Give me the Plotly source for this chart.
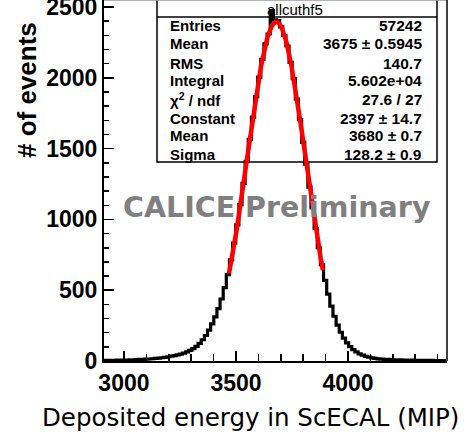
import numpy as np
import plotly.graph_objects as go

# ---- data ----
bin_start = 2911.0
bin_width = 14.0
counts = [
    4, 3, 5, 4, 6, 5, 7, 6, 8, 9,
    10, 11, 12, 13, 14, 16, 18, 20, 23, 26,
    30, 34, 38, 43, 49, 56, 64, 75, 88, 104,
    125, 150, 180, 218, 262, 312, 370, 438, 518, 610,
    715, 832, 962, 1105, 1255, 1410, 1565, 1722, 1868, 2005,
    2130, 2240, 2310, 2475, 2410, 2405, 2360, 2300, 2225, 2110,
    1995, 1850, 1705, 1545, 1390, 1228, 1082, 935, 800, 680,
    570, 472, 388, 316, 254, 203, 162, 128, 101, 81,
    64, 51, 41, 33, 27, 22, 18, 15, 13, 12,
    11, 10, 9, 8, 8, 7, 7, 6, 6, 5,
    5, 5, 4, 4, 4, 3, 3, 3, 3,
]
fit_constant = 2397.0
fit_mean = 3680.0
fit_sigma = 128.2
fit_range = [3469.0, 3888.0]

stats_title = "allcuthf5"
stats_labels = ["Entries", "Mean", "RMS", "Integral", "χ<sup>2</sup> / ndf",
                "Constant", "Mean", "Sigma"]
stats_values = ["57242", "3675 ± 0.5945", "140.7", "5.602e+04", "27.6 / 27",
                "2397 ± 14.7", "3680 ± 0.7", "128.2 ± 0.9"]

x_ticks = [3000, 3500, 4000]
y_ticks = [0, 500, 1000, 1500, 2000, 2500]
x_range = [2911, 4442]
y_range = [0, 2550]

# ---- figure ----
edges = [bin_start + bin_width * i for i in range(len(counts) + 1)]
hx = edges
hy = counts + [counts[-1]]

fx = np.linspace(fit_range[0], fit_range[1], 300)
fy = fit_constant * np.exp(-0.5 * ((fx - fit_mean) / fit_sigma) ** 2)

fig = go.Figure()
fig.add_trace(go.Scatter(x=hx, y=hy, mode="lines", line=dict(shape="hv", color="black", width=3.2),
                         hoverinfo="skip", showlegend=False))
fig.add_trace(go.Scatter(x=fx, y=fy, mode="lines", line=dict(color="#ff0000", width=4.5),
                         hoverinfo="skip", showlegend=False))

W, H = 475, 436
L, R, T, B = 104, 28, 0, 75
pw, ph = W - L - R, H - T - B


def px(x):
    return (x - L) / pw


def py(y):
    return (H - B - y) / ph


shapes = [
    # stats box
    dict(type="rect", xref="paper", yref="paper", x0=px(157), x1=px(437), y0=py(162), y1=py(-5),
         line=dict(color="black", width=1.5), fillcolor="white", layer="below"),
    dict(type="line", xref="paper", yref="paper", x0=px(157), x1=px(437), y0=py(17), y1=py(17),
         line=dict(color="black", width=1.5), layer="below"),
    # frame top / right
    dict(type="line", xref="paper", yref="paper", x0=0, x1=1, y0=1, y1=1,
         line=dict(color="#999999", width=1.5)),
    dict(type="line", xref="paper", yref="paper", x0=1, x1=1, y0=0, y1=1,
         line=dict(color="black", width=1.5)),
]

annotations = [
    dict(text=stats_title, xref="paper", yref="paper", x=px(295), y=py(10), showarrow=False,
         font=dict(family="Liberation Sans", size=15, color="black"), xanchor="center", yanchor="middle"),
]
row_y = [26, 44, 63, 80, 99, 118, 135, 154]
for lab, val, ry in zip(stats_labels, stats_values, row_y):
    annotations.append(dict(text="<b>" + lab + "</b>", xref="paper", yref="paper", x=px(168), y=py(ry),
                            showarrow=False, xanchor="left", yanchor="middle",
                            font=dict(family="Liberation Sans", size=15, color="black")))
    annotations.append(dict(text="<b>" + val + "</b>", xref="paper", yref="paper", x=px(424), y=py(ry),
                            showarrow=False, xanchor="right", yanchor="middle",
                            font=dict(family="Liberation Sans", size=15.5, color="black")))

annotations.append(dict(text="<b>CALICE Preliminary</b>", xref="paper", yref="paper", x=px(277), y=py(207),
                        showarrow=False, xanchor="center", yanchor="middle",
                        font=dict(family="DejaVu Sans", size=28.5, color="#808080")))
annotations.append(dict(text="<b># of events</b>", xref="paper", yref="paper", x=px(27), y=py(90),
                        showarrow=False, xanchor="center", yanchor="middle", textangle=-90,
                        font=dict(family="Liberation Sans", size=26, color="black")))
annotations.append(dict(text="Deposited energy in ScECAL (MIP)", xref="paper", yref="paper", x=px(250),
                        y=py(417), showarrow=False, xanchor="center", yanchor="middle",
                        font=dict(family="DejaVu Sans", size=24.5, color="black")))

fig.update_layout(
    template="none",
    width=W, height=H,
    margin=dict(l=L, r=R, t=T, b=B, pad=0),
    paper_bgcolor="white", plot_bgcolor="white",
    shapes=shapes, annotations=annotations,
    showlegend=False,
    hovermode=False,
    xaxis=dict(range=x_range, tickvals=x_ticks, ticktext=[str(v) for v in x_ticks],
               automargin=False, ticklabeloverflow="allow",
               showgrid=False, zeroline=False, showline=True, linecolor="black", linewidth=2,
               ticks="inside", ticklen=10, tickwidth=1.5, tickcolor="black",
               minor=dict(ticks="inside", dtick=100, tick0=3000, ticklen=7, tickwidth=1.5, tickcolor="black",
                          showgrid=False),
               tickfont=dict(family="Liberation Sans", size=23, color="black", weight="bold")),
    yaxis=dict(range=y_range, tickvals=y_ticks, ticktext=[str(v) for v in y_ticks],
               automargin=False, ticklabeloverflow="allow",
               showgrid=False, zeroline=False, showline=True, linecolor="black", linewidth=2,
               ticks="inside", ticklen=10, tickwidth=1.5, tickcolor="black",
               minor=dict(ticks="inside", dtick=100, tick0=0, ticklen=5, tickwidth=1.5, tickcolor="black",
                          showgrid=False),
               tickfont=dict(family="Liberation Sans", size=23, color="black", weight="bold")),
)

fig.write_html("out.html",
               config={"displayModeBar": False, "staticPlot": True},
               post_script="document.body.style.margin='0';document.body.style.overflow='hidden';")
